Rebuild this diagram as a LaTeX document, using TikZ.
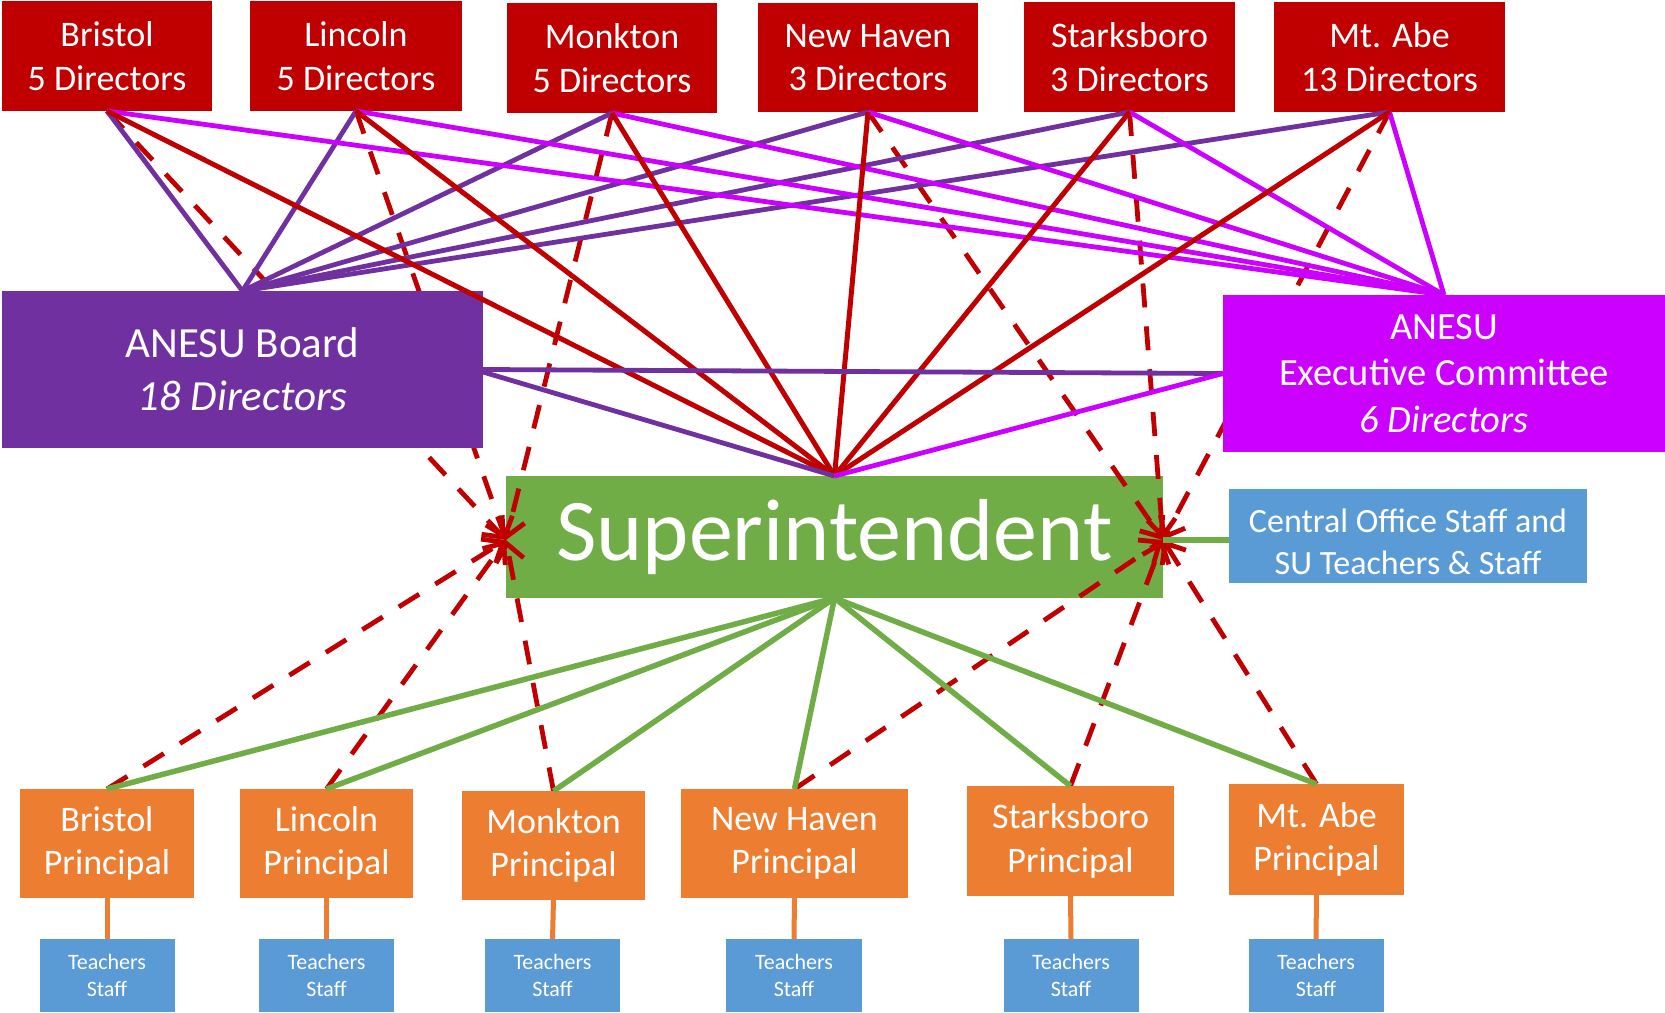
\documentclass[tikz,border=0pt]{standalone}
\usepackage{fontspec}
\setmainfont{Carlito}
\usetikzlibrary{arrows.meta}
\pgfdeclarelayer{l0}
\pgfdeclarelayer{l1}
\pgfdeclarelayer{l3}
\pgfsetlayers{l0,l1,main,l3}
\definecolor{cRed}{HTML}{C00000}
\definecolor{cPur}{HTML}{7030A0}
\definecolor{cMag}{HTML}{CC00FF}
\definecolor{cGrn}{HTML}{70AD47}
\definecolor{cOrg}{HTML}{ED7D31}
\definecolor{cBlu}{HTML}{5B9BD5}
\begin{document}
\begin{tikzpicture}[x=1pt,y=-1pt,
  box/.style={inner sep=0pt, outer sep=0pt, text=white, align=center},
  topbox/.style={box, fill=cRed, font=\fontsize{36}{43.5}\selectfont},
  boardbox/.style={box, fill=cPur, font=\fontsize{43}{53}\selectfont},
  execbox/.style={box, fill=cMag, font=\fontsize{38.5}{46.7}\selectfont},
  superbox/.style={box, fill=cGrn, font=\fontsize{88}{100}\selectfont},
  centralbox/.style={box, fill=cBlu},
  centraltext/.style={box, font=\fontsize{34}{41.5}\selectfont},
  princbox/.style={box, fill=cOrg, font=\fontsize{36}{43.5}\selectfont},
  teachbox/.style={box, fill=cBlu, font=\fontsize{22}{26.5}\selectfont},
  lnP/.style={draw=cPur, line width=4.8pt},
  lnM/.style={draw=cMag, line width=4.8pt},
  lnR/.style={draw=cRed, line width=5pt},
  lnG/.style={draw=cGrn, line width=5.5pt},
  lnO/.style={draw=cOrg, line width=5pt},
  lnD/.style={draw=cRed, line width=4.8pt, dash pattern=on 24pt off 19pt,
    -{Straight Barb[length=17pt,width=28pt]}}
]
\useasboundingbox (0,0) rectangle (1665,1012);

% superintendent (bottom layer)
\begin{pgfonlayer}{l0}
\node[superbox, minimum width=657pt, minimum height=122pt] (sup) at (834.5,537) {Superintendent};
\end{pgfonlayer}

% top boxes
\node[topbox, minimum width=210pt, minimum height=110pt] (tBri) at (107,56) {Bristol\\5 Directors};
\node[topbox, minimum width=212pt, minimum height=110pt] (tLin) at (356,56) {Lincoln\\5 Directors};
\node[topbox, minimum width=210pt, minimum height=110pt] (tMon) at (612,58) {Monkton\\5 Directors};
\node[topbox, minimum width=220pt, minimum height=109pt] (tNew) at (868,57.5) {New Haven\\3 Directors};
\node[topbox, minimum width=211pt, minimum height=110pt] (tSta) at (1129.5,57) {Starksboro\\3 Directors};
\node[topbox, minimum width=231pt, minimum height=110pt] (tAbe) at (1389.5,57) {Mt. Abe\\13 Directors};

% board and exec
\node[boardbox, minimum width=481pt, minimum height=157pt] (board) at (242.5,369.5) {ANESU Board\\\textit{18 Directors}};
\node[execbox, minimum width=442pt, minimum height=157pt] (exec) at (1444,373.5) {ANESU\\Executive Committee\\\textit{6 Directors}};

% central office
\node[centralbox, minimum width=358pt, minimum height=94pt] (cent) at (1408,536) {};
\node[centraltext] (centT) at (1408,542) {Central Office Staff and\\SU Teachers \& Staff};

% principals
\node[princbox, minimum width=174pt, minimum height=109pt] (pBri) at (107,843.5) {Bristol\\Principal};
\node[princbox, minimum width=173pt, minimum height=109pt] (pLin) at (326.5,843.5) {Lincoln\\Principal};
\node[princbox, minimum width=183pt, minimum height=109pt] (pMon) at (553.5,845.5) {Monkton\\Principal};
\node[princbox, minimum width=227pt, minimum height=109pt] (pNew) at (794.5,843.5) {New Haven\\Principal};
\node[princbox, minimum width=207pt, minimum height=110pt] (pSta) at (1070.5,841) {Starksboro\\Principal};
\node[princbox, minimum width=175pt, minimum height=111pt] (pAbe) at (1316.5,839.5) {Mt. Abe\\Principal};

% teachers
\node[teachbox, minimum width=135pt, minimum height=73pt] (sBri) at (107,975.5) {Teachers\\Staff};
\node[teachbox, minimum width=135pt, minimum height=73pt] (sLin) at (326.5,975.5) {Teachers\\Staff};
\node[teachbox, minimum width=135pt, minimum height=73pt] (sMon) at (552.5,975.5) {Teachers\\Staff};
\node[teachbox, minimum width=136pt, minimum height=73pt] (sNew) at (794,975.5) {Teachers\\Staff};
\node[teachbox, minimum width=135pt, minimum height=73pt] (sSta) at (1071,975.5) {Teachers\\Staff};
\node[teachbox, minimum width=135pt, minimum height=73pt] (sAbe) at (1316,975.5) {Teachers\\Staff};

\coordinate (sL) at (506,540);
\coordinate (sR) at (1163,540);
\coordinate (bE) at (483,372);

% dashed lines (above superintendent, below other boxes)
\begin{pgfonlayer}{l1}
\foreach \n in {tBri,tLin,tMon}{\draw[lnD] (\n.south) -- (sL);}
\foreach \n in {pBri,pLin,pMon}{\draw[lnD] (\n.north) -- (sL);}
\foreach \n in {tNew,tSta,tAbe}{\draw[lnD] (\n.south) -- (sR);}
\foreach \n in {pNew,pSta,pAbe}{\draw[lnD] (\n.north) -- (sR);}
\end{pgfonlayer}

% solid lines on top
\begin{pgfonlayer}{l3}
\foreach \n in {tBri,tLin,tMon,tNew,tSta,tAbe}{\draw[lnP] (board.north) -- (\n.south);}
\foreach \n in {tBri,tLin,tMon,tNew,tSta,tAbe}{\draw[lnM] (exec.north) -- (\n.south);}
\foreach \n in {tBri,tLin,tMon,tNew,tSta,tAbe}{\draw[lnR] (\n.south) -- (sup.north);}
\draw[lnP] (board.east) -- (exec.west);
\draw[lnP] (bE) -- (sup.north);
\draw[lnM] (exec.west) -- (sup.north);
\foreach \n in {pBri,pLin,pMon,pNew,pSta,pAbe}{\draw[lnG] (sup.south) -- (\n.north);}
\draw[lnG, line width=6pt] (sR) -- (sR -| cent.west);
\foreach \a/\b in {pBri/sBri,pLin/sLin,pMon/sMon,pNew/sNew,pSta/sSta,pAbe/sAbe}{\draw[lnO] (\a.south) -- (\b.north);}
\end{pgfonlayer}
\end{tikzpicture}
\end{document}
